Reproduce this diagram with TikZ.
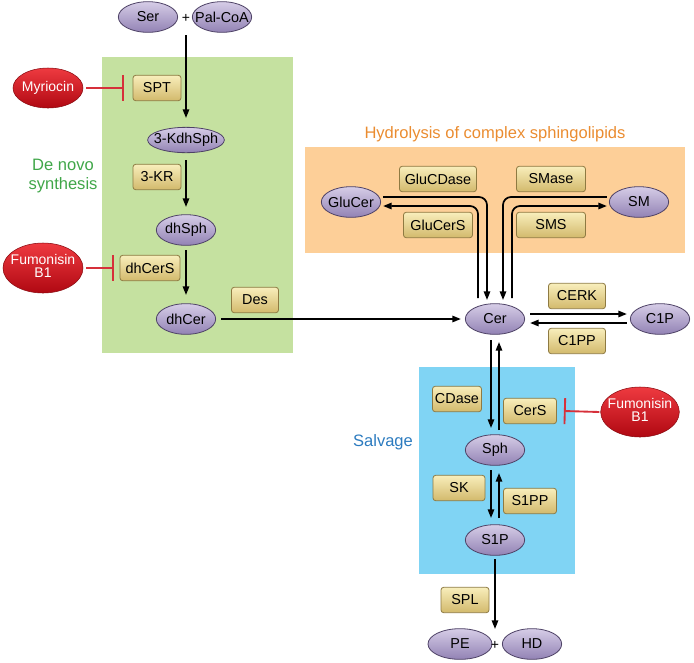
\documentclass[tikz,border=0pt]{standalone}
\usepackage{fontspec}
\setmainfont{Liberation Sans}
\usetikzlibrary{shapes.geometric,arrows.meta,calc}
\definecolor{greenbg}{HTML}{C5E1A0}
\definecolor{orangebg}{HTML}{FDCF98}
\definecolor{bluebg}{HTML}{80D4F4}
\definecolor{greentxt}{HTML}{3FA648}
\definecolor{orangetxt}{HTML}{EA8C30}
\definecolor{bluetxt}{HTML}{2C7BBF}
\definecolor{elltop}{HTML}{D6CDE7}
\definecolor{ellbot}{HTML}{9282B4}
\definecolor{elldraw}{HTML}{4E4266}
\definecolor{boxtop}{HTML}{F8EEBB}
\definecolor{boxbot}{HTML}{D2B96C}
\definecolor{boxdraw}{HTML}{8E7A42}
\definecolor{redtop}{HTML}{EE3A40}
\definecolor{redbot}{HTML}{B00812}
\definecolor{reddraw}{HTML}{8A0A10}
\definecolor{inhred}{HTML}{D6303A}
\newcommand{\zw}[1]{\makebox[0pt][c]{#1}}
\begin{document}
\begin{tikzpicture}[x=0.75pt,y=-0.75pt,
  nf/.style={font=\fontsize{10.8}{12.5}\selectfont},
  ell/.style={nf, ellipse, draw=elldraw, line width=0.6pt, top color=elltop, bottom color=ellbot,
    minimum width=44.5pt, minimum height=23pt, inner sep=0pt},
  redell/.style={ellipse, draw=reddraw, line width=0.4pt, top color=redtop, bottom color=redbot,
    text=white, font=\fontsize{10.5}{12}\selectfont, inner sep=0pt},
  bx/.style={nf, rectangle, rounded corners=2pt, draw=boxdraw, line width=0.6pt,
    top color=boxtop, bottom color=boxbot, minimum width=#1*0.75pt, minimum height=19pt, inner sep=1pt},
  plusn/.style={font=\fontsize{10.5}{11}\selectfont, inner sep=0pt},
  lbl/.style={font=\fontsize{12.4}{14.5}\selectfont, inner sep=0pt},
  arr/.style={line width=1.3pt, -{Triangle[length=6.5pt,width=4.8pt]}},
  inh/.style={line width=1.4pt, draw=inhred, -{Bar[width=19.5pt]}}
]
\useasboundingbox (0,0) rectangle (694,662);
% background regions
\fill[greenbg] (102,57) rectangle (293,353);
\fill[orangebg] (305,147) rectangle (685,253);
\fill[bluebg] (419,367) rectangle (575,574);

% region labels
\node[lbl, text=greentxt, align=center] (denovo) at (63,176) {De novo\\synthesis};
\node[lbl, text=orangetxt] (hydro) at (495,134) {Hydrolysis of complex sphingolipids};
\node[lbl, text=bluetxt] (salv) at (383,442) {Salvage};

% metabolites
\node[ell] (Ser) at (148,17) {\zw{Ser}};
\node[plusn] (plus1) at (186,18) {+};
\node[ell] (PalCoA) at (222,17) {\zw{Pal-CoA}};
\node[ell, minimum width=57.5pt, minimum height=19pt] (Kdh) at (186,140) {\zw{3-KdhSph}};
\node[ell] (dhSph) at (186,230) {\zw{dhSph}};
\node[ell] (dhCer) at (186,319) {\zw{dhCer}};
\node[ell] (Cer) at (495,319) {\zw{Cer}};
\node[ell] (C1P) at (660,319) {\zw{C1P}};
\node[ell] (GluCer) at (351,202) {\zw{GluCer}};
\node[ell] (SM) at (639,202) {\zw{SM}};
\node[ell] (Sph) at (495,450) {\zw{Sph}};
\node[ell] (S1P) at (495,540) {\zw{S1P}};
\node[ell, minimum width=48pt] (PE) at (460,644) {\zw{PE}};
\node[plusn] (plus2) at (495,645) {+};
\node[ell] (HD) at (532,644) {\zw{HD}};

% inhibitors
\node[redell, minimum width=52.5pt, minimum height=30pt] (Myr) at (48,88) {\zw{Myriocin}};
\node[redell, minimum width=60pt, minimum height=37.5pt] (Fum1) at (43,268)
  {\zw{\begin{tabular}{@{}c@{}}Fumonisin\\[-2pt]B1\end{tabular}}};
\node[redell, minimum width=59pt, minimum height=37.5pt] (Fum2) at (640,412)
  {\zw{\begin{tabular}{@{}c@{}}Fumonisin\\[-2pt]B1\end{tabular}}};

% enzymes
\node[bx=48] (SPT) at (157,88) {SPT};
\node[bx=48] (KR) at (157,177) {3-KR};
\node[bx=60] (dhCerS) at (150,268) {dhCerS};
\node[bx=47] (Des) at (255,300) {Des};
\node[bx=77] (GluCDase) at (438,179) {GluCDase};
\node[bx=69] (GluCerS) at (438,225) {GluCerS};
\node[bx=69] (SMase) at (551,179) {SMase};
\node[bx=69] (SMS) at (551,225) {SMS};
\node[bx=57] (CERK) at (577,296) {CERK};
\node[bx=57] (C1PP) at (577,341) {C1PP};
\node[bx=49] (CDase) at (457,399) {CDase};
\node[bx=53] (CerS) at (530,411) {CerS};
\node[bx=52] (SK) at (459,488) {SK};
\node[bx=53] (S1PP) at (530,501) {S1PP};
\node[bx=48] (SPL) at (465,600) {SPL};

% de novo arrows
\draw[arr] ($(plus1)+(0,17)$) -- ($(Kdh)+(0,-22)$);
\draw[arr] ($(Kdh)+(0,20)$) -- ($(dhSph)+(0,-23)$);
\draw[arr] ($(dhSph)+(0,20)$) -- ($(dhCer)+(0,-24)$);
\draw[arr] ($(dhCer.east)+(5,0)$) -- ($(Cer.west)+(-4,0)$);

% hydrolysis arrows
\draw[arr, rounded corners=6pt] ($(GluCer.east)+(2,-5)$) -| ($(Cer)+(-8,-19)$);
\draw[arr, rounded corners=6pt] ($(Cer)+(-17,-21)$) |- ($(GluCer.east)+(2,4)$);
\draw[arr, rounded corners=6pt] ($(SM.west)+(-2,-5)$) -| ($(Cer)+(8,-19)$);
\draw[arr, rounded corners=6pt] ($(Cer)+(17,-21)$) |- ($(SM.west)+(-2,4)$);

% C1P arrows
\draw[arr] ($(Cer.east)+(5,-5)$) -- ($(C1P.west)+(-3,-5)$);
\draw[arr] ($(C1P.west)+(-3,4)$) -- ($(Cer.east)+(5,4)$);

% salvage arrows
\draw[arr] ($(Cer)+(-4,21)$) -- ($(Sph)+(-4,-22)$);
\draw[arr] ($(Sph)+(4,-20)$) -- ($(Cer)+(4,23)$);
\draw[arr] ($(Sph)+(-4,20)$) -- ($(S1P)+(-4,-22)$);
\draw[arr] ($(S1P)+(4,-22)$) -- ($(Sph)+(4,23)$);
\draw[arr] ($(S1P)+(0,19)$) -- ($(plus2)+(0,-16)$);

% inhibition
\draw[inh] ($(Myr.east)+(3,0)$) -- ($(SPT.west)+(-9,0)$);
\draw[inh] ($(Fum1.east)+(3,0)$) -- ($(dhCerS.west)+(-6,0)$);
\draw[inh] ($(Fum2.west)+(-1,0)$) -- ($(CerS.east)+(7,0)$);
\end{tikzpicture}
\end{document}
